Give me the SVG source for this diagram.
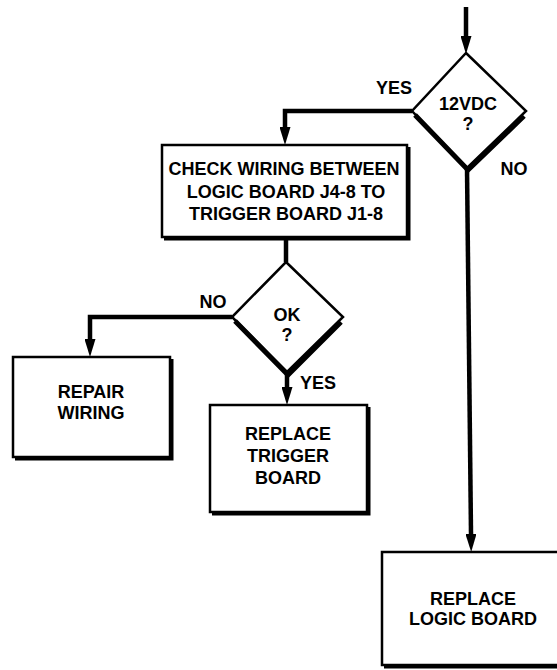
<svg xmlns="http://www.w3.org/2000/svg" width="557" height="670" viewBox="0 0 557 670">
<defs>
<style>
.box{fill:#fff;stroke:#000;stroke-width:2.5}
.sh{fill:none;stroke:#000;stroke-width:3}
.dia{fill:#fff;stroke:#000;stroke-width:2.5;stroke-linejoin:miter}
.dsh{fill:none;stroke:#000;stroke-width:5}
.con{fill:none;stroke:#000;stroke-width:4.5;stroke-linejoin:miter}
text{font-family:"Liberation Sans",Arial,sans-serif;font-weight:bold;font-size:18px;fill:#000;text-anchor:middle}
</style>
<marker id="arr" markerUnits="userSpaceOnUse" viewBox="0 0 18 11" markerWidth="18" markerHeight="11" refX="0" refY="5.5" orient="auto">
<path d="M0,0 L18,5.5 L0,11 z" fill="#000"/>
</marker>
</defs>
<rect width="557" height="670" fill="#fff"/>
<g id="connectors">
<path class="con" d="M466,7 V36" marker-end="url(#arr)"/>
<path class="con" d="M412,111 H285 V127" marker-end="url(#arr)"/>
<path class="con" d="M286,238 V262"/>
<path class="con" d="M232,317 H90 V339" marker-end="url(#arr)"/>
<path class="con" d="M287,372 V387" marker-end="url(#arr)"/>
<path class="con" d="M467,168 L471,534" marker-end="url(#arr)"/>
</g>
<g id="decision-12vdc">
<polygon class="dia" points="466,53 526,111 467,168 412,111"/>
<polyline class="dsh" points="415,115 468,170 524,116"/>
<text x="468" y="110">12VDC</text>
<text x="468" y="130">?</text>
</g>
<g id="label-yes1"><text x="394" y="94">YES</text></g>
<g id="label-no1"><text x="514" y="175">NO</text></g>
<g id="check-wiring">
<rect class="box" x="162" y="145" width="245" height="92"/>
<polyline class="sh" points="409,147 409,239 164,239"/>
<text x="284" y="175">CHECK WIRING BETWEEN</text>
<text x="286" y="198">LOGIC BOARD J4-8 TO</text>
<text x="286" y="220">TRIGGER BOARD J1-8</text>
</g>
<g id="decision-ok">
<polygon class="dia" points="286,262 343,317 287,372 232,317"/>
<polyline class="dsh" points="235,321 288,375 341,322"/>
<text x="287" y="321">OK</text>
<text x="287" y="341">?</text>
</g>
<g id="label-no2"><text x="213" y="308">NO</text></g>
<g id="label-yes2"><text x="318" y="389">YES</text></g>
<g id="repair-wiring">
<rect class="box" x="13" y="357" width="157" height="100"/>
<polyline class="sh" points="172,359 172,459 15,459"/>
<text x="91" y="398">REPAIR</text>
<text x="91" y="419">WIRING</text>
</g>
<g id="replace-trigger">
<rect class="box" x="210" y="405" width="157" height="107"/>
<polyline class="sh" points="369,407 369,514 212,514"/>
<text x="288" y="440">REPLACE</text>
<text x="288" y="462">TRIGGER</text>
<text x="288" y="484">BOARD</text>
</g>
<g id="replace-logic">
<rect class="box" x="382" y="552" width="185" height="113"/>
<polyline class="sh" points="384,667 567,667"/>
<text x="473" y="605">REPLACE</text>
<text x="473" y="625">LOGIC BOARD</text>
</g>
</svg>
